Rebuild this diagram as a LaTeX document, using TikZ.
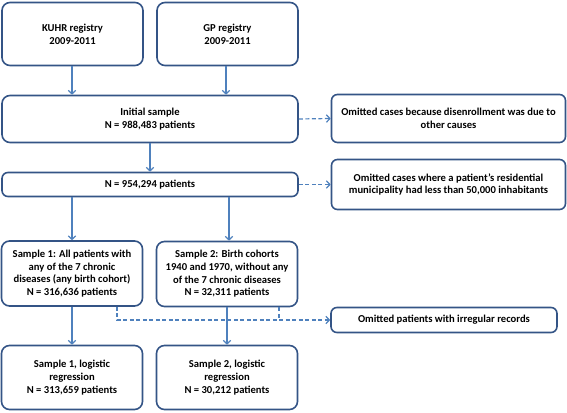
\documentclass[tikz,border=0pt]{standalone}
\usepackage{fontspec}
\setmainfont{Carlito}
\usetikzlibrary{arrows.meta,calc}
\definecolor{boxc}{RGB}{52,84,134}
\definecolor{arrc}{RGB}{79,129,189}
\begin{document}
\begin{tikzpicture}[x=1pt,y=-1pt,
  box/.style={draw=boxc,line width=1.6pt,rounded corners=8pt,align=center,
    font=\fontsize{10.6}{12.7}\selectfont\bfseries,inner sep=0pt},
  sbox/.style={box,rounded corners=6pt},
  arr/.style={draw=arrc,line width=1.2pt,-{Straight Barb[length=3.5pt,width=7.5pt,line width=1.2pt]}},
  darr/.style={arr,dash pattern=on 4pt off 2.5pt},
  dln/.style={draw=arrc,line width=1.2pt,dash pattern=on 4pt off 2.5pt}]
\useasboundingbox (0,0) rectangle (567,412);
\node[box,minimum width=141pt,minimum height=63pt] (kuhr) at (72.5,34) {KUHR registry\\2009-2011};
\node[box,minimum width=141pt,minimum height=63pt] (gp) at (227.5,34) {GP registry\\2009-2011};
\node[box,minimum width=296pt,minimum height=47pt] (init) at (150,119) {Initial sample\\N = 988,483 patients};
\node[box,minimum width=296pt,minimum height=24pt,rounded corners=6pt] (n) at (150,184.5) {N = 954,294 patients};
\node[sbox,minimum width=234pt,minimum height=48pt] (om1) at (448.5,118.5) {Omitted cases because disenrollment was due to\\other causes};
\node[sbox,minimum width=234pt,minimum height=50pt] (om2) at (448.5,184.5) {Omitted cases where a patient’s residential\\municipality had less than 50,000 inhabitants};
\node[box,minimum width=141pt,minimum height=65pt] (s1) at (72,273.5) {Sample 1: All patients with\\any of the 7 chronic\\diseases (any birth cohort)\\N = 316,636 patients};
\node[box,minimum width=141pt,minimum height=65pt] (s2) at (227,274) {Sample 2: Birth cohorts\\1940 and 1970, without any\\of the 7 chronic diseases\\N = 32,311 patients};
\node[box,minimum width=141pt,minimum height=64pt] (b1) at (72,377.5) {Sample 1, logistic\\regression\\N = 313,659 patients};
\node[box,minimum width=141pt,minimum height=64pt] (b2) at (227,377.5) {Sample 2, logistic\\regression\\N = 30,212 patients};
\node[sbox,minimum width=226pt,minimum height=25pt] (om3) at (444,320) {Omitted patients with irregular records};
% arrows
\draw[arr] ($(kuhr.south)+(-0.5,0)$) -- ($(kuhr.south |- init.north)+(-0.5,0)$);
\draw[arr] ($(gp.south)+(-1.5,0)$) -- ($(gp.south |- init.north)+(-1.5,0)$);
\draw[arr] (init.south) -- (init.south |- n.north);
\draw[arr] (n.south -| s1.north) -- (s1.north);
\draw[arr] ($(n.south -| s2.north)+(2,0)$) -- ($(s2.north)+(2,0)$);
\draw[arr] (s1.south) -- (b1.north);
\draw[arr] (s2.south) -- (b2.north);
% dashed
\draw[darr] (init.east) -- (om1.west);
\draw[darr] (n.east) -- (om2.west);
\coordinate (d1) at (117,0);
\coordinate (d2) at (279,0);
\draw[darr] (d1 |- s1.south) |- (om3.west);
\draw[dln] (d2 |- s2.south) -- (d2 |- om3.west);
\end{tikzpicture}
\end{document}
